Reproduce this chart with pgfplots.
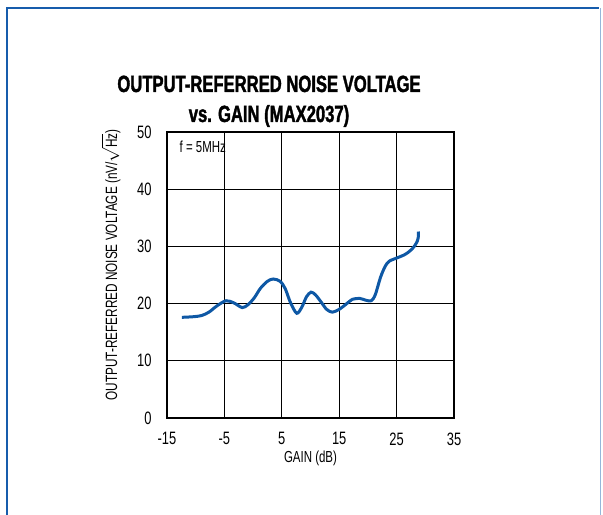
\documentclass[border=0pt]{standalone}
\usepackage{pgfplots}
\pgfplotsset{compat=1.18}
\usepackage{fontspec}
\setmainfont{Liberation Sans}[FakeStretch=0.72]
\newfontfamily\titlefont{Liberation Sans Bold}[FakeStretch=0.71, FakeBold=1.6]

\definecolor{curveblue}{RGB}{14,88,165}
\definecolor{frameblue}{RGB}{22,92,172}

\begin{document}
\begin{tikzpicture}[x=1bp,y=1bp]
\useasboundingbox (0,0) rectangle (603,515);
% page frame
\draw[frameblue, line width=2.5bp] (7,0) -- (7,507) -- (599,507);
\draw[frameblue!45, line width=1bp] (600,507) -- (600,0);

% title
\node[anchor=base, font=\titlefont\fontsize{23.5}{26}\selectfont] at (269,423) {OUTPUT-REFERRED NOISE VOLTAGE};
\node[anchor=base, font=\titlefont\fontsize{23.5}{26}\selectfont] at (269,393) {vs. GAIN (MAX2037)};

\begin{axis}[
  at={(167bp,97bp)}, anchor=south west,
  scale only axis, width=287bp, height=286bp,
  xmin=-15, xmax=35, ymin=0, ymax=50,
  xtick={-15,-5,...,35},
  xticklabels={-15,-5,5,15,25,35},
  ytick={0,10,...,50},
  yticklabels={0,10,20,30,40,50},
  grid=major,
  major grid style={black, line width=0.8bp},
  axis line style={black, line width=2bp},
  tick style={draw=none},
  ticklabel style={font=\fontsize{18}{18}\selectfont},
  xticklabel style={yshift=-11bp},
  yticklabel style={xshift=-12bp},
  xlabel={GAIN (dB)},
  xlabel style={font=\fontsize{16}{16}\selectfont, at={(axis description cs:0.5,0)}, anchor=north, yshift=-29bp},
  ylabel={OUTPUT-REFERRED NOISE VOLTAGE (nV/$\sqrt{\mbox{Hz}}$)},
  ylabel style={font=\fontsize{16.4}{16}\selectfont, at={(axis description cs:-0.195,0.535)}, anchor=center},
  clip=false,
]
\addplot[curveblue, line width=3bp, smooth] coordinates {
  (-12.4,17.6) (-10.5,17.7) (-9.0,17.9) (-7.7,18.5) (-6.3,19.6)
  (-4.7,20.5) (-3.3,20.1) (-1.9,19.3) (-0.9,19.8) (0.2,21.0)
  (1.3,22.7) (2.5,23.9) (3.5,24.3) (4.7,23.9) (5.6,22.6)
  (6.5,20.2) (7.6,18.3) (8.5,19.4) (9.3,21.2) (10.1,22.0)
  (10.9,21.5) (11.9,20.2) (12.8,19.0) (13.8,18.5) (15.0,19.0)
  (16.2,19.9) (17.3,20.75) (18.6,20.9) (19.6,20.6) (20.6,20.5)
  (21.3,21.6) (22.2,24.6) (23.0,26.5) (23.7,27.4) (25.1,28.0)
  (26.3,28.5) (27.2,29.1) (28.0,29.9) (28.6,30.9) (28.8,31.8) (28.8,32.6)
};
\node[anchor=base west, font=\fontsize{16}{16}\selectfont] at (axis cs:-13.4,46.4) {f = 5MHz};
\end{axis}
\end{tikzpicture}
\end{document}
